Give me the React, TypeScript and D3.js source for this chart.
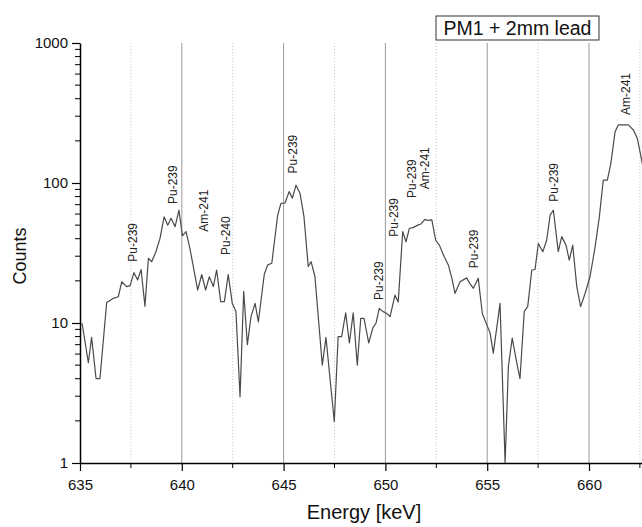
import { useEffect, useRef } from "react";
import * as d3 from "d3";

// spectrum (energy in keV, counts)
const energies = [
  635.1, 635.41, 635.57, 635.79, 635.98, 636.31, 636.64, 636.88, 637.05, 637.29,
  637.46, 637.65, 637.83, 638.0, 638.19, 638.36, 638.52, 638.72, 638.93, 639.13,
  639.31, 639.47, 639.67, 639.86, 640.03, 640.21, 640.4, 640.78, 640.98, 641.17,
  641.35, 641.55, 641.71, 641.91, 642.09, 642.28, 642.48, 642.66, 642.86, 643.04,
  643.22, 643.4, 643.6, 643.76, 644.05, 644.22, 644.42, 644.71, 644.87, 645.07,
  645.27, 645.43, 645.61, 645.81, 646.0, 646.21, 646.35, 646.54, 646.9, 647.08,
  647.49, 647.68, 647.85, 648.05, 648.23, 648.42, 648.62, 648.79, 648.95, 649.18,
  649.38, 649.54, 649.7, 649.87, 650.07, 650.23, 650.47, 650.63, 650.85, 651.01,
  651.18, 651.36, 651.59, 651.75, 651.94, 652.09, 652.28, 652.47, 652.65, 652.89,
  653.09, 653.26, 653.42, 653.67, 653.99, 654.16, 654.32, 654.56, 654.76, 654.98,
  655.14, 655.3, 655.63, 655.88, 656.04, 656.23, 656.42, 656.61, 656.82, 656.99,
  657.19, 657.35, 657.51, 657.73, 657.92, 658.09, 658.25, 658.49, 658.66, 658.87,
  659.03, 659.2, 659.4, 659.59, 659.81, 660.05, 660.3, 660.51, 660.7, 660.9,
  661.07, 661.28, 661.44, 661.69, 661.93, 662.18, 662.37, 662.59, 662.8,
];
const counts = [
  10, 5.2, 7.9, 4.0, 4.0, 14, 15, 15.4, 19.7, 18.2,
  18.5, 22.9, 20.3, 24.1, 13.2, 29, 27.4, 32, 40.2, 57.3,
  50, 56, 48.8, 64, 42, 45, 34, 17.2, 22.2, 17.2,
  21.4, 18.2, 23.9, 14.2, 14.2, 22.2, 13.8, 12.1, 2.97, 16.8,
  7.0, 11.1, 13.8, 10.2, 22.2, 26, 26.7, 59, 71.5, 72,
  86.8, 78, 96.5, 84, 57.5, 25.3, 27.4, 21.4, 5.0, 7.9,
  1.97, 8.0, 8.0, 11.8, 7.2, 11.8, 5.0, 10.8, 10.8, 7.2,
  9.2, 10, 12.7, 12.1, 11.7, 11.1, 15.8, 14.1, 45, 38,
  47.5, 48, 50, 51, 55, 54, 54.5, 39, 36, 29.7,
  26, 21, 16.3, 19.7, 21, 19, 17.7, 20.9, 11.7, 9.7,
  8.5, 6.1, 13.8, 1.0, 4.9, 7.8, 5.5, 4.0, 12.1, 13.1,
  23.9, 24.1, 37, 32.3, 39, 59, 64, 32.3, 41.4, 36,
  28.1, 36, 18.2, 13.1, 16.3, 21.4, 35, 57.5, 105, 105,
  137, 232, 260, 260, 260, 239, 209, 145, 100,
];

// peak annotations
const peakNames = [
  "Pu-239", "Pu-239", "Am-241", "Pu-240", "Pu-239", "Pu-239",
  "Pu-239", "Pu-239", "Am-241", "Pu-239", "Pu-239", "Am-241",
];
const peakEnergies = [
  637.57, 639.53, 641.09, 642.16, 645.43, 649.64,
  650.41, 651.26, 651.9, 654.34, 658.25, 661.77,
];
const peakLabelCounts = [27.4, 70.8, 44.9, 30.6, 117, 14.6, 41.3, 78.1, 90.2, 24.6, 73.5, 306];

const majorTicks = [635, 640, 645, 650, 655, 660, 665];
const minorTicks = [637.5, 642.5, 647.5, 652.5, 657.5, 662.5];
const yTicks = [1, 10, 100, 1000];

const W = 642;
const H = 527;
const left = 80;
const top = 43;
const bottom = 463;
const font = "Liberation Sans, Arial, sans-serif";

function App() {
  const ref = useRef(null);

  useEffect(() => {
    const svg = d3.select(ref.current);
    svg.selectAll("*").remove();

    const x = d3.scaleLinear().domain([635, 665]).range([left, left + 30 * 20.36]);
    const y = d3.scaleLog().domain([1, 1000]).range([bottom, top]);

    // grid
    svg.append("g")
      .selectAll("line")
      .data(majorTicks.filter((d) => d > 635))
      .enter()
      .append("line")
      .attr("x1", (d) => x(d))
      .attr("x2", (d) => x(d))
      .attr("y1", top)
      .attr("y2", bottom)
      .attr("stroke", "#9a9a9a")
      .attr("stroke-width", 1);

    svg.append("g")
      .selectAll("line")
      .data(minorTicks)
      .enter()
      .append("line")
      .attr("x1", (d) => x(d))
      .attr("x2", (d) => x(d))
      .attr("y1", top)
      .attr("y2", bottom)
      .attr("stroke", "#c8c8c8")
      .attr("stroke-width", 1)
      .attr("stroke-dasharray", "1,2");

    // spectrum
    const pts = energies.map((e, i) => [e, counts[i]]);
    const line = d3.line().x((d) => x(d[0])).y((d) => y(d[1]));
    svg.append("path")
      .datum(pts)
      .attr("d", line)
      .attr("fill", "none")
      .attr("stroke", "#4a4a4a")
      .attr("stroke-width", 1.2)
      .attr("stroke-linejoin", "round");

    // peak labels
    svg.append("g")
      .selectAll("text")
      .data(peakNames)
      .enter()
      .append("text")
      .attr("transform", (d, i) => `translate(${x(peakEnergies[i]) + 4.5},${y(peakLabelCounts[i])}) rotate(-90)`)
      .attr("font-family", font)
      .attr("font-size", 12)
      .attr("fill", "#222")
      .text((d) => d);

    // x axis
    const xAxis = svg.append("g").attr("transform", `translate(0,${bottom})`);
    xAxis.call(
      d3.axisBottom(x).tickValues(majorTicks).tickSize(8).tickSizeOuter(0).tickFormat(d3.format("d"))
    );
    xAxis.selectAll(".tick")
      .filter((d) => d === 665)
      .remove();
    xAxis.append("g")
      .selectAll("line")
      .data(minorTicks)
      .enter()
      .append("line")
      .attr("x1", (d) => x(d))
      .attr("x2", (d) => x(d))
      .attr("y1", 0)
      .attr("y2", 5)
      .attr("stroke", "#000");

    // y axis
    const yAxis = svg.append("g").attr("transform", `translate(${left},0)`);
    yAxis.call(
      d3.axisLeft(y).tickValues(yTicks).tickSize(8).tickSizeOuter(0).tickFormat(d3.format("d"))
    );
    const minorY = [];
    yTicks.slice(0, 3).forEach((p) => {
      for (let k = 2; k <= 9; k++) minorY.push(p * k);
    });
    yAxis.append("g")
      .selectAll("line")
      .data(minorY)
      .enter()
      .append("line")
      .attr("x1", -5)
      .attr("x2", 0)
      .attr("y1", (d) => y(d))
      .attr("y2", (d) => y(d))
      .attr("stroke", "#000");

    [xAxis, yAxis].forEach((a) => {
      a.select(".domain").attr("stroke-width", 1.5);
      a.selectAll(".tick line").attr("stroke-width", 1.2);
      a.selectAll("text")
        .attr("font-family", font)
        .attr("font-size", 15)
        .attr("fill", "#111");
    });
    xAxis.selectAll(".tick text").attr("dy", "1.05em");
    yAxis.selectAll(".tick text").attr("x", -12);

    // axis titles
    svg.append("text")
      .attr("x", 364)
      .attr("y", 519)
      .attr("text-anchor", "middle")
      .attr("font-family", font)
      .attr("font-size", 20)
      .attr("fill", "#111")
      .text("Energy [keV]");

    svg.append("text")
      .attr("transform", `translate(26,256) rotate(-90)`)
      .attr("text-anchor", "middle")
      .attr("font-family", font)
      .attr("font-size", 18)
      .attr("fill", "#111")
      .text("Counts");

    // legend box
    const box = svg.append("g").attr("transform", "translate(436,16)");
    box.append("rect")
      .attr("width", 163)
      .attr("height", 24)
      .attr("fill", "#fff")
      .attr("stroke", "#333")
      .attr("stroke-width", 1);
    box.append("text")
      .attr("x", 81.5)
      .attr("y", 19)
      .attr("text-anchor", "middle")
      .attr("font-family", font)
      .attr("font-size", 19.5)
      .attr("fill", "#111")
      .text("PM1 + 2mm lead");
  }, []);

  return (
    <svg
      ref={ref}
      width={W}
      height={H}
      style={{ position: "absolute", left: 0, top: 0, background: "#fff" }}
    ></svg>
  );
}

export default App;
